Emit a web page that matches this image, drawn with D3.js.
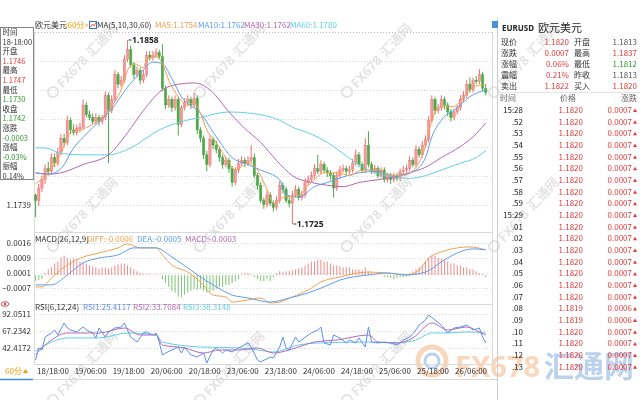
<!DOCTYPE html>
<html><head><meta charset="utf-8">
<script src="https://cdn.jsdelivr.net/npm/d3@7"></script>
<style>
body{margin:0;background:#fff;}
svg{display:block;font-family:"Noto Sans CJK SC","Noto Sans",sans-serif;}
</style></head>
<body><svg id="c" width="640" height="400"></svg>
<script>
// ---------------- DATA ----------------
const opens=[1.1746,1.1742,1.1751,1.1757,1.1765,1.1763,1.1773,1.1769,1.1777,1.1787,
1.1784,1.1800,1.1793,1.1791,1.1794,1.1795,1.1811,1.1804,1.1802,1.1799,
1.1802,1.1799,1.1802,1.1818,1.1807,1.1815,1.1833,1.1826,1.1829,1.1844,
1.1851,1.1840,1.1833,1.1836,1.1829,1.1833,1.1847,1.1845,1.1847,1.1849,
1.1846,1.1823,1.1811,1.1815,1.1809,1.1815,1.1797,1.1809,1.1813,1.1815,
1.1811,1.1816,1.1793,1.1787,1.1775,1.1768,1.1786,1.1782,1.1779,1.1773,
1.1768,1.1771,1.1765,1.1755,1.1764,1.1769,1.1771,1.1769,1.1771,1.1773,
1.1760,1.1753,1.1742,1.1739,1.1746,1.1740,1.1737,1.1742,1.1753,1.1750,
1.1742,1.1740,1.1746,1.1750,1.1744,1.1746,1.1755,1.1757,1.1760,1.1765,
1.1763,1.1768,1.1764,1.1762,1.1760,1.1751,1.1760,1.1764,1.1765,1.1763,
1.1764,1.1769,1.1775,1.1768,1.1764,1.1782,1.1768,1.1763,1.1765,1.1760,
1.1764,1.1757,1.1760,1.1757,1.1760,1.1758,1.1763,1.1764,1.1765,1.1771,
1.1768,1.1779,1.1775,1.1782,1.1786,1.1800,1.1815,1.1807,1.1809,1.1815,
1.1811,1.1806,1.1802,1.1806,1.1809,1.1815,1.1818,1.1826,1.1822,1.1829,
1.1828,1.1833,1.1823];
const highs=[1.1747,1.1754,1.1760,1.1768,1.1770,1.1776,1.1776,1.1780,1.1790,1.1790,
1.1803,1.1802,1.1797,1.1797,1.1798,1.1815,1.1813,1.1807,1.1805,1.1805,
1.1804,1.1804,1.1821,1.1820,1.1818,1.1836,1.1835,1.1832,1.1847,1.1858,
1.1854,1.1842,1.1839,1.1838,1.1836,1.1850,1.1850,1.1850,1.1852,1.1851,
1.1855,1.1825,1.1818,1.1817,1.1818,1.1817,1.1811,1.1816,1.1818,1.1817,
1.1820,1.1818,1.1795,1.1789,1.1778,1.1789,1.1788,1.1785,1.1781,1.1775,
1.1774,1.1773,1.1767,1.1766,1.1772,1.1774,1.1773,1.1774,1.1782,1.1776,
1.1762,1.1755,1.1744,1.1749,1.1748,1.1742,1.1745,1.1756,1.1755,1.1752,
1.1745,1.1749,1.1753,1.1752,1.1749,1.1758,1.1760,1.1763,1.1768,1.1775,
1.1771,1.1770,1.1766,1.1764,1.1762,1.1763,1.1767,1.1768,1.1767,1.1767,
1.1772,1.1779,1.1777,1.1770,1.1787,1.1792,1.1770,1.1768,1.1767,1.1766,
1.1766,1.1762,1.1762,1.1762,1.1762,1.1765,1.1767,1.1768,1.1774,1.1773,
1.1782,1.1781,1.1785,1.1789,1.1803,1.1818,1.1817,1.1812,1.1818,1.1817,
1.1813,1.1808,1.1808,1.1811,1.1818,1.1821,1.1829,1.1831,1.1831,1.1832,
1.1837,1.1835,1.1826];
const lows=[1.1730,1.1738,1.1748,1.1754,1.1760,1.1761,1.1766,1.1767,1.1775,1.1781,
1.1782,1.1790,1.1789,1.1789,1.1791,1.1793,1.1802,1.1800,1.1797,1.1797,
1.1796,1.1797,1.1800,1.1769,1.1805,1.1813,1.1823,1.1824,1.1827,1.1842,
1.1838,1.1830,1.1831,1.1826,1.1827,1.1831,1.1843,1.1843,1.1845,1.1844,
1.1821,1.1808,1.1809,1.1806,1.1807,1.1789,1.1795,1.1807,1.1810,1.1808,
1.1809,1.1790,1.1784,1.1772,1.1763,1.1766,1.1779,1.1776,1.1770,1.1765,
1.1766,1.1762,1.1752,1.1753,1.1762,1.1767,1.1766,1.1767,1.1769,1.1758,
1.1750,1.1740,1.1736,1.1737,1.1738,1.1734,1.1735,1.1740,1.1747,1.1740,
1.1737,1.1725,1.1744,1.1742,1.1742,1.1744,1.1753,1.1755,1.1758,1.1761,
1.1761,1.1762,1.1759,1.1757,1.1744,1.1749,1.1758,1.1762,1.1760,1.1761,
1.1762,1.1767,1.1766,1.1762,1.1762,1.1766,1.1761,1.1761,1.1758,1.1758,
1.1755,1.1755,1.1754,1.1755,1.1756,1.1756,1.1761,1.1762,1.1763,1.1766,
1.1766,1.1773,1.1773,1.1780,1.1784,1.1798,1.1804,1.1805,1.1807,1.1808,
1.1803,1.1799,1.1800,1.1804,1.1807,1.1813,1.1816,1.1820,1.1820,1.1826,
1.1826,1.1821,1.1818];
const closes=[1.1742,1.1751,1.1757,1.1765,1.1763,1.1773,1.1769,1.1777,1.1787,1.1784,
1.1800,1.1793,1.1791,1.1794,1.1795,1.1811,1.1804,1.1802,1.1799,1.1802,
1.1799,1.1802,1.1818,1.1807,1.1815,1.1833,1.1826,1.1829,1.1844,1.1851,
1.1840,1.1833,1.1836,1.1829,1.1833,1.1847,1.1845,1.1847,1.1849,1.1846,
1.1823,1.1811,1.1815,1.1809,1.1815,1.1797,1.1809,1.1813,1.1815,1.1811,
1.1816,1.1793,1.1787,1.1775,1.1768,1.1786,1.1782,1.1779,1.1773,1.1768,
1.1771,1.1765,1.1755,1.1764,1.1769,1.1771,1.1769,1.1771,1.1773,1.1760,
1.1753,1.1742,1.1739,1.1746,1.1740,1.1737,1.1742,1.1753,1.1750,1.1742,
1.1740,1.1746,1.1750,1.1744,1.1746,1.1755,1.1757,1.1760,1.1765,1.1763,
1.1768,1.1764,1.1762,1.1760,1.1751,1.1760,1.1764,1.1765,1.1763,1.1764,
1.1769,1.1775,1.1768,1.1764,1.1782,1.1768,1.1763,1.1765,1.1760,1.1764,
1.1757,1.1760,1.1757,1.1760,1.1758,1.1763,1.1764,1.1765,1.1771,1.1768,
1.1779,1.1775,1.1782,1.1786,1.1800,1.1815,1.1807,1.1809,1.1815,1.1811,
1.1806,1.1802,1.1806,1.1809,1.1815,1.1818,1.1826,1.1822,1.1829,1.1828,
1.1833,1.1823,1.1820];

// moving averages (candle index, value)
const ma5At=[0,3,8,11,14,18,21,24,27,29,31,34,35,38,40,42,45,48,50,52,54,57,60,63,67,70,73,75,79,82,87,91,95,99,103,108,112,116,120,123,125,128,132,135,138,142];
const ma5Val=[1.1754,1.1760,1.1776,1.1791,1.1793,1.1797,1.1802,1.1810,1.1822,1.1836,1.1841,1.1838,1.1844,1.1846,1.1841,1.1829,1.1817,1.1811,1.1813,1.1805,1.1793,1.1784,1.1773,1.1764,1.1769,1.1764,1.1750,1.1740,1.1745,1.1745,1.1755,1.1762,1.1762,1.1760,1.1764,1.1764,1.1760,1.1760,1.1766,1.1781,1.1800,1.1810,1.1810,1.1817,1.1824,1.1826];
const ma10At=[0,4,8,12,16,20,24,29,33,37,40,43,46,52,57,62,67,71,77,79,83,88,92,97,102,108,113,118,121,123,125,128,133,137,142];
const ma10Val=[1.1762,1.1761,1.1765,1.1780,1.1790,1.1799,1.1808,1.1824,1.1834,1.1842,1.1841,1.1830,1.1817,1.1805,1.1788,1.1773,1.1768,1.1764,1.1757,1.1746,1.17445,1.1752,1.1755,1.1759,1.1762,1.1763,1.1760,1.1762,1.1766,1.1773,1.1788,1.1800,1.1809,1.1817,1.1822];
const ma30At=[0,4,8,15,23,29,34,40,45,50,55,61,66,71,76,81,87,92,97,102,108,113,118,123,128,134,138,142];
const ma30Val=[1.1762,1.1761,1.1762,1.1768,1.1775,1.1791,1.1807,1.1822,1.1826,1.1827,1.1822,1.1806,1.1794,1.1784,1.1771,1.1760,1.1755,1.1753,1.1752,1.1755,1.1757,1.1759,1.1762,1.1766,1.1773,1.1781,1.1788,1.1798];
const ma60At=[0,3,8,15,23,30,39,46,52,61,68,77,81,87,92,100,105,113,118,123,128,134,139,142];
const ma60Val=[1.1780,1.1780,1.1776,1.1775,1.1775,1.1780,1.1793,1.1799,1.1802,1.1806,1.1805,1.1800,1.1795,1.1790,1.1784,1.1771,1.1764,1.1759,1.1758,1.1760,1.1764,1.1769,1.1773,1.1778];

// MACD
const macdBars=[-0.0003,-0.00025,-0.0002,0.0001,0.0003,0.0004,0.0006,0.0007,0.0009,0.001,
0.0009,0.0008,0.00085,0.0008,0.0007,0.00065,0.0006,0.0005,0.00045,0.0004,
0.00035,0.0004,0.0004,0.00035,0.0004,0.0005,0.00055,0.0006,0.0006,0.0005,
0.0004,0.0003,0.0002,0.0001,0.00005,0.00005,0.00005,0.00003,0.00004,0.00002,
-0.0002,-0.0004,-0.0006,-0.0008,-0.0009,-0.0011,-0.00115,-0.001,-0.0009,-0.0008,
-0.0007,-0.00075,-0.0007,-0.0008,-0.0009,-0.00085,-0.0008,-0.0007,-0.0006,-0.0006,
-0.0005,-0.0005,-0.0004,-0.0003,-0.0002,0.00005,0.0001,0.0001,0.00005,-0.0001,
-0.0002,-0.0003,-0.0003,-0.0002,-0.0003,-0.0001,0.0001,0.0002,0.00015,0.0002,
0.0002,0.00025,0.0003,0.00035,0.0004,0.0005,0.0006,0.0007,0.0007,0.0008,
0.0008,0.0007,0.0007,0.0006,0.0005,0.0005,0.00045,0.0004,0.0004,0.0004,
0.0003,0.0003,0.0003,0.00025,0.0004,0.0002,0.0001,0.00005,0.00005,0.00003,
-0.0001,-0.0001,-0.00015,-0.0002,-0.00015,-0.0001,-0.0001,-0.00005,0.0001,0.0002,
0.0003,0.0004,0.0005,0.0007,0.0009,0.001,0.001,0.0009,0.00085,0.0008,
0.0007,0.0006,0.0006,0.0005,0.0005,0.0004,0.0004,0.0003,0.0003,0.0002,
0.0001,0.00005,-0.0001];
const diffAt=[0,2,5,10,15,20,26,29,33,38,40,43,48,52,56,60,62,67,71,74,77,81,86,90,96,105,111,117,121,124,128,133,137,142];
const diffVal=[-0.0006,-0.0006,-0.00014,0.00052,0.00093,0.00114,0.0014,0.0016,0.0014,0.0014,0.00104,0.00052,0.00016,-0.00035,-0.00102,-0.00112,-0.00138,-0.00127,-0.00117,-0.00143,-0.00138,-0.00112,-0.00076,-0.00035,-0.00009,0.00016,0.00011,0.00001,0.00027,0.00088,0.00119,0.0014,0.00145,0.0013];
const deaAt=[0,5,10,15,20,26,31,38,43,48,52,57,62,67,74,80,86,91,96,105,111,117,123,128,133,138,142];
const deaVal=[-0.0005,-0.0005,0.00001,0.00063,0.00088,0.00104,0.0014,0.0014,0.00093,0.00037,-0.00009,-0.0006,-0.00102,-0.00117,-0.00138,-0.00117,-0.00091,-0.0006,-0.00025,0.00001,0.00011,0.00001,0.00016,0.00068,0.00114,0.00135,0.0013];

// RSI
const rsi1At=[0,1,2,3,5,6,7,9,10,11,13,15,16,18,19,20,22,23,25,27,28,29,30,32,34,35,37,38,39,40,41,43,45,46,47,49,51,53,54,56,57,59,60,62,64,67,68,70,71,74,75,77,78,79,80,82,83,86,87,89,90,91,93,94,96,98,99,101,102,104,105,106,108,110,112,114,116,118,120,121,123,124,126,128,130,132,134,136,138,140,141,142];
const rsi1Val=[25.4,42.9,40,58.7,64.5,68.8,61.6,78.9,71.7,68.8,66,73.1,68.8,64.5,57.3,71.7,58.7,66,71.7,73.1,78.9,68.8,58.7,51.5,64.5,66,61.6,64.5,51.5,32.8,35.6,40,44.3,35.6,44.3,32.8,29.9,35.6,21.2,40,42.9,35.6,40,37.1,42.9,50.1,44.3,25.5,22.7,29.9,28.4,44.3,58.7,42.9,40,58.7,51.5,61.6,64.5,68.8,73.1,50.1,47.2,61.6,57.3,50.1,54.4,50.1,57.3,44.3,73.1,51.5,50.1,51.5,50.1,47.2,54.4,58.7,68.8,76,83.2,90.4,83.2,76,64.5,71.7,73.1,76,68.8,71.7,58.7,50.1];
const rsi2At=[0,5,10,20,28,33,38,40,47,53,58,64,70,75,80,83,88,95,105,108,114,119,125,130,136,140,142];
const rsi2Val=[33.7,54.4,64.5,64.5,71.7,61.6,61.6,47.2,42.9,35.6,40,40,42.9,35.6,40,44.3,51.5,54.4,61.6,51.5,50.1,57.3,78.9,68.8,73.1,66,61.6];
const rsi3At=[0,5,10,20,29,38,40,52,64,70,75,83,89,105,114,120,125,130,136,142];
const rsi3Val=[38.3,51.5,57.3,57.3,64.5,61.6,51.5,44.3,42.9,40,37.1,47.2,50.1,51.5,50.1,54.4,64.5,64.5,66,64.5];

// axis ticks / labels
const priceTicks=[1.1739,1.17597,1.17804,1.18011,1.18218,1.18425];
const macdTicks=[0.001638,0.000868,0.0000975,-0.000657];
const rsiTicks=[92.0511,67.2342,42.4172];
const timeLabels=["18/18:00","19/06:00","19/18:00","20/06:00","20/18:00","23/06:00","23/18:00","24/06:00","24/18:00","25/06:00","25/18:00","26/06:00"];
const timeLabelIdx=[0,12,24,36,48,60,72,84,96,108,120,132];

// info box (hovered candle 18-18:00)
const infoLabels=["时间","18-18:00","开盘","1.1746","最高","1.1747","最低","1.1730","收盘","1.1742","涨跌","-0.0003","涨幅","-0.03%","振幅","0.14%"];
const infoKinds=["k","k","k","up","k","up","k","dn","k","dn","k","dn","k","dn","k","k"];

// right panel quote
const qLabelsL=["现价","涨跌","涨幅","震幅","卖出"];
const qValsL=["1.1820","0.0007","0.06%","0.21%","1.1822"];
const qLabelsR=["开盘","最高","最低","昨收","买入"];
const qValsR=["1.1813","1.1837","1.1812","1.1813","1.1820"];
const qKindsR=["k","up","dn","k","up"];
const tickTimes=["15:28",".52",".53",".54",".55",".56",".57",".58",".59","15:29",".01",".02",".03",".04",".05",".06",".07",".08",".09",".10",".11",".12",".13"];
const tickPrices=[1.1820,1.1820,1.1820,1.1820,1.1820,1.1820,1.1820,1.1820,1.1820,1.1820,1.1820,1.1820,1.1820,1.1820,1.1820,1.1820,1.1820,1.1819,1.1819,1.1820,1.1820,1.1820,1.1820];
const tickChanges=[0.0007,0.0007,0.0007,0.0007,0.0007,0.0007,0.0007,0.0007,0.0007,0.0007,0.0007,0.0007,0.0007,0.0007,0.0007,0.0007,0.0007,0.0006,0.0006,0.0007,0.0007,0.0007,0.0007];

// ---------------- DRAW ----------------
const RED="#ef6f6f", GREEN="#4fa84a", DARK="#333", GRAY="#666";
const C5="#f2a04e", C10="#5b9ef0", C30="#b467b4", C60="#62cfe6";
const svg=d3.select("#c");
const N=closes.length;
const L=34, R=492;
const xc=d3.scaleLinear().domain([0,N-1]).range([35.6,35.6+(N-1)*3.17]);
const yP=d3.scaleLinear().domain([1.1725,1.1858]).range([224,40]);
const yM=d3.scaleLinear().domain([-0.0007,0.0016]).range([288.8,244]);
const yR=d3.scaleLinear().domain([42.4172,92.0511]).range([348.3,313.88]);
const pairs=(a,b)=>a.map((v,k)=>[v,b[k]]);

// watermarks (decoration)
const wmPts=[[53,92],[200,92],[347,92],[494,92],[53,246],[200,246],[347,246],[494,246],[53,400],[200,400],[347,400]];
const wm=svg.append("g").attr("opacity",0.2);
wmPts.forEach(p=>{
  const g=wm.append("g").attr("transform",`translate(${p[0]},${p[1]}) rotate(-47)`);
  g.append("circle").attr("r",5).attr("fill","none").attr("stroke","#777").attr("stroke-width",2);
  g.append("text").attr("x",9).attr("y",5).attr("font-size",13).attr("font-weight","bold").attr("fill","#777").attr("font-family","Noto Sans").text("FX678");
  g.append("text").attr("x",52).attr("y",5).attr("font-size",13).attr("font-weight","bold").attr("fill","#777").text("汇通网");
});

// big logo bottom right
const lg=svg.append("g").attr("opacity",0.35);
lg.append("circle").attr("cx",432).attr("cy",361).attr("r",14).attr("fill","none").attr("stroke","#f08a3c").attr("stroke-width",5);
lg.append("circle").attr("cx",432).attr("cy",361).attr("r",7).attr("fill","none").attr("stroke","#3d7fd0").attr("stroke-width",3);
lg.append("text").attr("x",455).attr("y",377).attr("font-size",29).attr("font-weight","bold").attr("font-family","Noto Sans").attr("fill","#f08a3c").text("FX678");
lg.append("text").attr("x",544).attr("y",377).attr("font-size",30).attr("font-weight","bold").attr("fill","#3d7fd0").text("汇通网");

// frame lines
const fr=svg.append("g").attr("stroke","#d8d8d8").attr("fill","none");
fr.append("line").attr("x1",L+0.5).attr("x2",L+0.5).attr("y1",32).attr("y2",365);
fr.append("line").attr("x1",R+0.5).attr("x2",R+0.5).attr("y1",32).attr("y2",365);
fr.append("line").attr("x1",L).attr("x2",R).attr("y1",232.5).attr("y2",232.5);
fr.append("line").attr("x1",L).attr("x2",R).attr("y1",304.5).attr("y2",304.5);
fr.append("line").attr("x1",L).attr("x2",R).attr("y1",364.5).attr("y2",364.5);
fr.append("line").attr("x1",0).attr("x2",497).attr("y1",379.5).attr("y2",379.5);
svg.append("line").attr("x1",497.5).attr("x2",497.5).attr("y1",18).attr("y2",400).attr("stroke","#ccc");
svg.append("line").attr("x1",35).attr("x2",R).attr("y1",32.5).attr("y2",32.5).attr("stroke","#bbb").attr("stroke-dasharray","1,2");

// grids
const grid=svg.append("g").attr("stroke","#d6d6d6").attr("stroke-dasharray","1,2");
priceTicks.forEach(v=>grid.append("line").attr("x1",L).attr("x2",R).attr("y1",Math.round(yP(v))+0.5).attr("y2",Math.round(yP(v))+0.5));
macdTicks.forEach(v=>grid.append("line").attr("x1",L).attr("x2",R).attr("y1",Math.round(yM(v))+0.5).attr("y2",Math.round(yM(v))+0.5));
rsiTicks.forEach(v=>grid.append("line").attr("x1",L).attr("x2",R).attr("y1",Math.round(yR(v))+0.5).attr("y2",Math.round(yR(v))+0.5));

// axes labels
function leftAxis(scale,ticks,fmt){
  const g=svg.append("g").attr("transform",`translate(${L-1},0)`)
    .call(d3.axisLeft(scale).tickValues(ticks).tickSize(0).tickPadding(2).tickFormat(fmt));
  g.select(".domain").remove();
  g.selectAll("text").attr("font-size",8).attr("fill",DARK).attr("font-family","Noto Sans CJK SC");
}
leftAxis(yP,priceTicks,d3.format(".4f"));
leftAxis(yM,macdTicks,d3.format(".4f"));
leftAxis(yR,rsiTicks,d3.format(".4f"));

// candles
const cg=svg.append("g");
const up=i=>closes[i]>=opens[i];
cg.selectAll("line").data(d3.range(N)).join("line")
  .attr("x1",i=>xc(i)).attr("x2",i=>xc(i))
  .attr("y1",i=>yP(highs[i])).attr("y2",i=>yP(lows[i]))
  .attr("stroke",i=>up(i)?RED:GREEN).attr("stroke-width",1);
cg.selectAll("rect").data(d3.range(N)).join("rect")
  .attr("x",i=>xc(i)-1.2).attr("width",2.4)
  .attr("y",i=>yP(Math.max(opens[i],closes[i])))
  .attr("height",i=>Math.max(1,Math.abs(yP(opens[i])-yP(closes[i]))))
  .attr("fill",i=>up(i)?"#f39a9a":GREEN).attr("stroke",i=>up(i)?RED:GREEN).attr("stroke-width",0.4);

// MA lines
const lineP=d3.line().x(d=>xc(d[0])).y(d=>yP(d[1])).curve(d3.curveMonotoneX);
[[ma60At,ma60Val,C60],[ma30At,ma30Val,C30],[ma10At,ma10Val,C10],[ma5At,ma5Val,C5]].forEach(m=>{
  svg.append("path").attr("d",lineP(pairs(m[0],m[1]))).attr("fill","none").attr("stroke",m[2]).attr("stroke-width",1);
});

// high/low markers
const hi=d3.maxIndex(highs), lo=d3.minIndex(lows);
[[hi,highs[hi]],[lo,lows[lo]]].forEach(m=>{
  const yy=yP(m[1]);
  svg.append("line").attr("x1",xc(m[0])+1).attr("x2",xc(m[0])+4).attr("y1",yy).attr("y2",yy).attr("stroke","#333");
  svg.append("text").attr("x",xc(m[0])+4.5).attr("y",yy+3).attr("font-size",8.5).attr("font-weight","bold").attr("fill","#222").attr("font-family","Noto Sans").text(d3.format(".4f")(m[1]));
});

// MACD
const mg=svg.append("g");
mg.selectAll("line").data(d3.range(N)).join("line")
  .attr("x1",i=>xc(i)).attr("x2",i=>xc(i))
  .attr("y1",yM(0)).attr("y2",i=>yM(macdBars[i]))
  .attr("stroke",i=>macdBars[i]>=0?"#ee8c8c":"#7cc476").attr("stroke-width",1);
const lineM=d3.line().x(d=>xc(d[0])).y(d=>yM(d[1])).curve(d3.curveMonotoneX);
svg.append("path").attr("d",lineM(pairs(diffAt,diffVal))).attr("fill","none").attr("stroke",C5).attr("stroke-width",1);
svg.append("path").attr("d",lineM(pairs(deaAt,deaVal))).attr("fill","none").attr("stroke",C10).attr("stroke-width",1);

// RSI
const lineR=d3.line().x(d=>xc(d[0])).y(d=>yR(d[1]));
svg.append("path").attr("d",lineR.curve(d3.curveMonotoneX)(pairs(rsi3At,rsi3Val))).attr("fill","none").attr("stroke",C60).attr("stroke-width",1);
svg.append("path").attr("d",lineR.curve(d3.curveMonotoneX)(pairs(rsi2At,rsi2Val))).attr("fill","none").attr("stroke",C30).attr("stroke-width",1);
svg.append("path").attr("d",lineR.curve(d3.curveLinear)(pairs(rsi1At,rsi1Val))).attr("fill","none").attr("stroke","#5d8ff0").attr("stroke-width",1);

// time labels
svg.append("g").selectAll("text").data(timeLabels).join("text")
  .attr("x",(d,k)=>Math.max(37,xc(timeLabelIdx[k])+1)).attr("y",374)
  .attr("font-size",8).attr("fill",DARK).text(d=>d);

// titles
function runs(y,items){
  items.forEach(it=>svg.append("text").attr("x",it[0]).attr("y",y).attr("font-size",it[3]||8).attr("fill",it[2]).text(it[1]));
}
runs(28,[[35,"欧元美元",DARK],[63,"<60分>","#f39800"],[97,"MA(5,10,30,60)",DARK],[155,"MA5:1.1754",C5],[198,"MA10:1.1762",C10],[244,"MA30:1.1762",C30],[290,"MA60:1.1780",C60]]);
svg.append("rect").attr("x",89.5).attr("y",21.5).attr("width",7).attr("height",7).attr("fill","#fff").attr("stroke","#3d6fd0");
svg.append("path").attr("d","M90.5,27 L92.5,24 L94,26 L96,22.5").attr("fill","none").attr("stroke","#d33").attr("stroke-width",0.8);
runs(242,[[35,"MACD(26,12,9)",DARK],[87,"DIFF:-0.0006",C5],[137,"DEA:-0.0005",C10],[185,"MACD:-0.0003",C30]]);
runs(310,[[35,"RSI(6,12,24)",DARK],[83,"RSI1:25.4117","#5d8ff0"],[133,"RSI2:33.7084",C30],[183,"RSI3:38.3148",C60]]);
// eye icon
svg.append("ellipse").attr("cx",5).attr("cy",304).attr("rx",4).attr("ry",2.3).attr("fill","none").attr("stroke","#c44").attr("stroke-width",0.9);
svg.append("circle").attr("cx",5).attr("cy",304).attr("r",1.2).attr("fill","#c44");

// info box
svg.append("rect").attr("x",0.5).attr("y",27.5).attr("width",33).attr("height",152).attr("fill","#fff").attr("stroke","#888");
svg.append("g").selectAll("text").data(infoLabels).join("text")
  .attr("x",2.5).attr("y",(d,k)=>35+k*9.6).attr("font-size",7.5)
  .attr("fill",(d,k)=>infoKinds[k]==="up"?"#e03c3c":infoKinds[k]==="dn"?"#2f9a2f":DARK).text(d=>d);

// bottom period tab
svg.append("text").attr("x",5).attr("y",374).attr("font-size",8).attr("fill","#f39800").text("60分");
svg.append("path").attr("d","M23,373 L25.5,369 L28,373Z").attr("fill","#f39800");
svg.append("line").attr("x1",0).attr("x2",33).attr("y1",379.5).attr("y2",379.5).attr("stroke","#3b8ee0").attr("stroke-width",1.5);

// right panel
svg.append("rect").attr("x",492).attr("y",21).attr("width",6).attr("height",7).attr("fill","#4a90d9");
svg.append("text").attr("x",502).attr("y",31).attr("font-size",8).attr("font-weight","bold").attr("fill","#222").attr("font-family","Noto Sans").text("EURUSD");
svg.append("text").attr("x",538).attr("y",32).attr("font-size",11).attr("fill","#222").text("欧元美元");
const qc=k=>k==="up"?"#e33b3b":k==="dn"?"#2f9a2f":"#555";
qLabelsL.forEach((t,k)=>{
  const y=45+k*11;
  svg.append("text").attr("x",501).attr("y",y).attr("font-size",8).attr("fill",DARK).text(t);
  svg.append("text").attr("x",569).attr("y",y).attr("text-anchor","end").attr("font-size",8).attr("fill","#e33b3b").text(qValsL[k]);
  svg.append("text").attr("x",574).attr("y",y).attr("font-size",8).attr("fill",DARK).text(qLabelsR[k]);
  svg.append("text").attr("x",637).attr("y",y).attr("text-anchor","end").attr("font-size",8).attr("fill",qc(qKindsR[k])).text(qValsR[k]);
});
svg.append("line").attr("x1",498).attr("x2",640).attr("y1",92.5).attr("y2",92.5).attr("stroke","#e4e4e4");
svg.append("text").attr("x",500).attr("y",101).attr("font-size",8).attr("fill",GRAY).text("时间");
svg.append("text").attr("x",560).attr("y",101).attr("font-size",8).attr("fill",GRAY).text("价格");
svg.append("text").attr("x",621).attr("y",101).attr("font-size",8).attr("fill",GRAY).text("涨跌");
const tg=svg.append("g");
tickTimes.forEach((t,k)=>{
  const y=113+k*11.67;
  tg.append("text").attr("x",523).attr("y",y).attr("text-anchor","end").attr("font-size",8).attr("fill","#222").text(t);
  tg.append("text").attr("x",583).attr("y",y).attr("text-anchor","end").attr("font-size",8).attr("fill","#e33b3b").text(d3.format(".4f")(tickPrices[k]));
  tg.append("text").attr("x",632).attr("y",y).attr("text-anchor","end").attr("font-size",8).attr("fill","#e33b3b").text(d3.format(".4f")(tickChanges[k]));
  tg.append("path").attr("d",`M633,${y-1} L635,${y-4.5} L637,${y-1}Z`).attr("fill","#e33b3b");
});
</script></body></html>
